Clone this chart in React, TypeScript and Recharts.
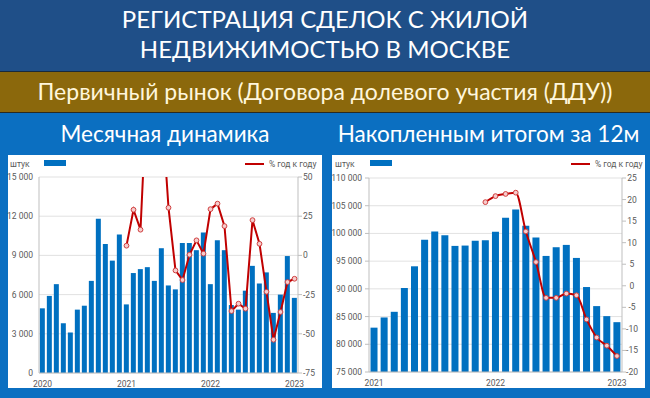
import React from 'react';
import { ComposedChart, Bar, Line, XAxis, YAxis, CartesianGrid } from 'recharts';

// ---------- DATA ----------
const monthsLeft = [
  '2020-01','2020-02','2020-03','2020-04','2020-05','2020-06','2020-07','2020-08','2020-09','2020-10','2020-11','2020-12',
  '2021-01','2021-02','2021-03','2021-04','2021-05','2021-06','2021-07','2021-08','2021-09','2021-10','2021-11','2021-12',
  '2022-01','2022-02','2022-03','2022-04','2022-05','2022-06','2022-07','2022-08','2022-09','2022-10','2022-11','2022-12',
  '2023-01',
];
const monthlyDeals = [
  4950, 5900, 6800, 3800, 3100, 4850, 5150, 7050, 11800, 9870, 8600, 10600,
  5250, 7650, 7950, 8100, 7050, 9550, 6700, 6400, 9950, 9950, 9400, 10750,
  6800, 10150, 9400, 5200, 4850, 6300, 8200, 6850, 7700, 4600, 6000, 8950,
  5750,
];
const monthlyYoY: (number | null)[] = [
  null, null, null, null, null, null, null, null, null, null, null, null,
  6.2, 29.1, 16.4, 113, 127, 97, 30.4, -9.6, -15.7, 0.4, 9.6, 1.1,
  29.5, 33.0, 18.7, -35.5, -30.8, -34.0, 22.5, 7.4, -23.2, -53.8, -36.1, -17.0,
  -14.9,
];

const monthsRight = [
  '2021-01','2021-02','2021-03','2021-04','2021-05','2021-06','2021-07','2021-08','2021-09','2021-10','2021-11','2021-12',
  '2022-01','2022-02','2022-03','2022-04','2022-05','2022-06','2022-07','2022-08','2022-09','2022-10','2022-11','2022-12',
  '2023-01',
];
const rollingDeals = [
  83000, 84840, 85860, 90150, 94070, 98840, 100350, 99680, 97750, 97810, 98660, 98780,
  100290, 102820, 104330, 101370, 99260, 95940, 97510, 97930, 95580, 90330, 86890, 85080,
  83990,
];
const rollingYoY: (number | null)[] = [
  null, null, null, null, null, null, null, null, null, null, null, 19.4,
  20.8, 21.3, 21.6, 12.6, 5.5, -2.8, -2.8, -1.8, -2.2, -7.8, -12.0, -13.9,
  -16.3,
];

const leftTicks = [0, 3000, 6000, 9000, 12000, 15000];
const leftPctTicks = [-75, -50, -25, 0, 25, 50];
const rightTicks = [75000, 80000, 85000, 90000, 95000, 100000, 105000, 110000];
const rightPctTicks = [-20, -15, -10, -5, 0, 5, 10, 15, 20, 25];

const titleLine1 = 'РЕГИСТРАЦИЯ СДЕЛОК С ЖИЛОЙ';
const titleLine2 = 'НЕДВИЖИМОСТЬЮ В МОСКВЕ';
const subtitle = 'Первичный рынок (Договора долевого участия (ДДУ))';
const leftTitle = 'Месячная динамика';
const rightTitle = 'Накопленным итогом за 12м';
const unitLabel = 'штук';
const yoyLabel = '% год к году';

// ---------- STYLE ----------
const BAR = '#0070c0';
const LINE = '#c00000';
const AXIS = '#bfbfbf';
const TXT = '#595959';
const FONT = 'Roboto, sans-serif';
const HFONT = 'Lato, sans-serif';

const leftData = monthsLeft.map((m, i) => ({ m, v: monthlyDeals[i], p: monthlyYoY[i] }));
const rightData = monthsRight.map((m, i) => ({ m, v: rollingDeals[i], p: rollingYoY[i] }));

const fmt = (v: number) => String(v).replace(/\B(?=(\d{3})+(?!\d))/g, '\u00a0');
const yearFmt = (m: string) => (m.endsWith('-01') ? m.slice(0, 4) : '');
const tickStyle = { fontSize: 8.5, fill: TXT, fontFamily: FONT };

const dotStyle = { r: 2.4, fill: '#f6cccc', stroke: '#d04040', strokeWidth: 1 };

const CenterTick = (props: any) => {
  const { x, y, payload } = props;
  return (
    <text x={x + 4} y={y} dy="0.35em" textAnchor="middle" fontSize={8.5} fill={TXT} fontFamily={FONT}>
      {payload.value}
    </text>
  );
};

const Legend = ({ x0, rect, line, text }: { x0: number; rect: number; line: number; text: number }) => (
  <>
    <div style={{ position: 'absolute', left: x0, top: 158, fontSize: 8.5, color: TXT, fontFamily: FONT, lineHeight: '12px' }}>{unitLabel}</div>
    <div style={{ position: 'absolute', left: rect, top: 160, width: 22, height: 6, background: BAR }} />
    <div style={{ position: 'absolute', left: line, top: 163, width: 19, height: 2, background: LINE }} />
    <div style={{ position: 'absolute', left: text, top: 158, fontSize: 8.5, color: TXT, fontFamily: FONT, lineHeight: '12px', whiteSpace: 'nowrap' }}>{yoyLabel}</div>
  </>
);

export default function App() {
  return (
    <div style={{ position: 'fixed', left: 0, top: 0, width: 650, height: 398, background: '#0b6fc1', overflow: 'hidden' }}>
      {/* top banner */}
      <div style={{ position: 'absolute', left: 0, top: 0, width: 650, height: 71, background: '#1f4f88', borderBottom: '1px solid #1a2a3a' }} />
      <div style={{ position: 'absolute', left: 0, top: 4, width: 650, textAlign: 'center', color: '#ffffff', fontFamily: HFONT, fontSize: 24, lineHeight: '30px', whiteSpace: 'nowrap' }}>
        {titleLine1}
        <br />
        {titleLine2}
      </div>
      {/* brown band */}
      <div style={{ position: 'absolute', left: 0, top: 72, width: 650, height: 40, background: '#8b680c', borderBottom: '1px solid #2a2a20' }} />
      <div style={{ position: 'absolute', left: 0, top: 77, width: 650, textAlign: 'center', color: '#fff6dc', fontFamily: HFONT, fontSize: 23, lineHeight: '28px', whiteSpace: 'nowrap' }}>
        {subtitle}
      </div>
      {/* panel titles */}
      <div style={{ position: 'absolute', left: 8, top: 120, width: 314, textAlign: 'center', color: '#ffffff', fontFamily: HFONT, fontSize: 22.5, lineHeight: '28px', whiteSpace: 'nowrap' }}>
        {leftTitle}
      </div>
      <div style={{ position: 'absolute', left: 332, top: 120, width: 313, textAlign: 'center', color: '#ffffff', fontFamily: HFONT, fontSize: 22.5, lineHeight: '28px', whiteSpace: 'nowrap' }}>
        {rightTitle}
      </div>

      {/* panels */}
      <div style={{ position: 'absolute', left: 8, top: 155, width: 314, height: 233, background: '#ffffff' }} />
      <div style={{ position: 'absolute', left: 332, top: 155, width: 313, height: 233, background: '#ffffff' }} />

      {/* left chart */}
      <div style={{ position: 'absolute', left: 0, top: 155, width: 322, height: 233 }}>
        <ComposedChart width={322} height={233} data={leftData} margin={{ top: 22, right: 0, left: 0, bottom: 0 }} barCategoryGap="12%">
          <CartesianGrid yAxisId="l" vertical={false} stroke="#d9d9d9" strokeWidth={0.8} />
          <XAxis dataKey="m" interval={0} tickFormatter={yearFmt} tickLine={false} stroke={AXIS} tick={tickStyle} height={15} />
          <YAxis yAxisId="l" orientation="left" width={39} domain={[0, 15000]} ticks={leftTicks} interval={0} tickFormatter={fmt} tickLine={false} tickSize={0} tickMargin={6} stroke={AXIS} tick={tickStyle} />
          <YAxis yAxisId="r" orientation="right" width={24} domain={[-75, 50]} ticks={leftPctTicks} interval={0} allowDataOverflow tickSize={4} tickMargin={1} stroke={AXIS} tick={tickStyle} />
          <Bar yAxisId="l" dataKey="v" fill={BAR} isAnimationActive={false} />
          <Line yAxisId="r" dataKey="p" type="linear" stroke={LINE} strokeWidth={2} dot={dotStyle} activeDot={false} isAnimationActive={false} />
        </ComposedChart>
      </div>

      {/* right chart */}
      <div style={{ position: 'absolute', left: 332, top: 155, width: 313, height: 233 }}>
        <ComposedChart width={313} height={233} data={rightData} margin={{ top: 23, right: 0, left: 0, bottom: 0 }} barCategoryGap="15%">
          <CartesianGrid yAxisId="l" vertical={false} stroke="#d9d9d9" strokeWidth={0.8} />
          <XAxis dataKey="m" interval={0} tickFormatter={yearFmt} tickLine={false} stroke={AXIS} tick={tickStyle} height={16} />
          <YAxis yAxisId="l" orientation="left" width={37} domain={[75000, 110000]} ticks={rightTicks} interval={0} tickFormatter={fmt} tickSize={4} tickMargin={3} stroke={AXIS} tick={tickStyle} />
          <YAxis yAxisId="r" orientation="right" width={23} domain={[-20, 25]} ticks={rightPctTicks} interval={0} tickSize={4} tickMargin={2} stroke={AXIS} tick={<CenterTick />} />
          <Bar yAxisId="l" dataKey="v" fill={BAR} isAnimationActive={false} />
          <Line yAxisId="r" dataKey="p" type="monotone" stroke={LINE} strokeWidth={2} dot={dotStyle} activeDot={false} isAnimationActive={false} />
        </ComposedChart>
      </div>

      <Legend x0={10} rect={44} line={245} text={269} />
      <Legend x0={335} rect={370} line={571} text={595} />
    </div>
  );
}
